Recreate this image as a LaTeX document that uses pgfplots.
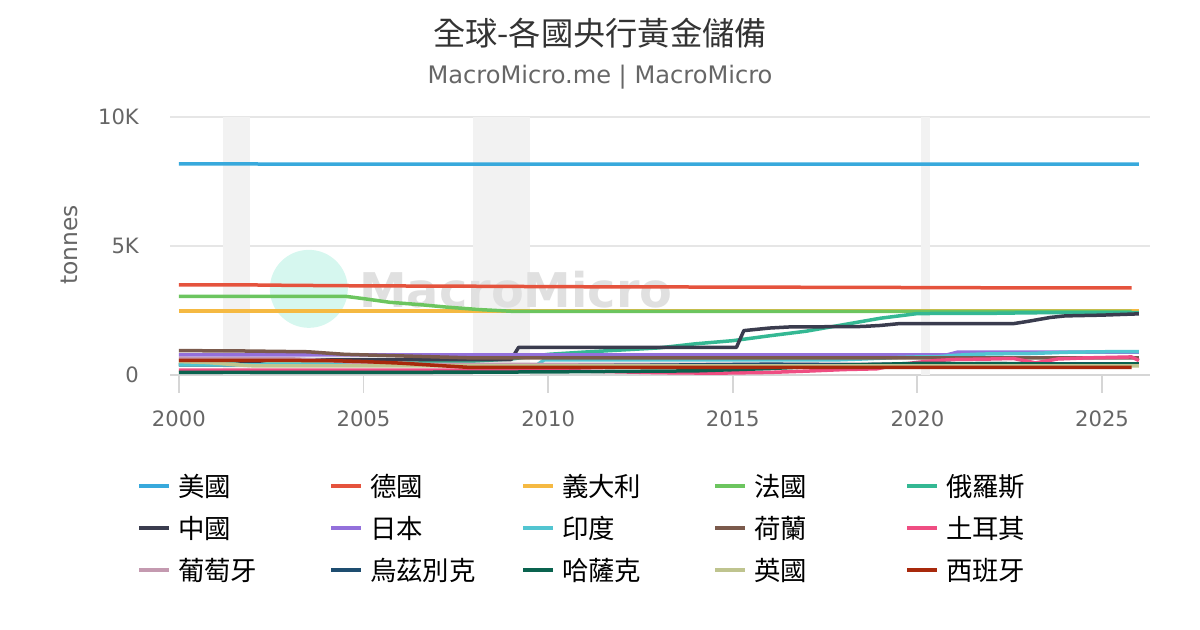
\documentclass[border=0pt]{standalone}
\usepackage{fontspec}
\setmainfont{DejaVu Sans}
\newfontfamily\cjk{Noto Sans CJK TC}
\usepackage{pgfplots}
\pgfplotsset{compat=1.18}
\definecolor{cUS}{HTML}{38A9DC}
\definecolor{cDE}{HTML}{E5533D}
\definecolor{cIT}{HTML}{F5B942}
\definecolor{cFR}{HTML}{6CC55F}
\definecolor{cRU}{HTML}{34B893}
\definecolor{cCN}{HTML}{3A3C4E}
\definecolor{cJP}{HTML}{9370DB}
\definecolor{cIN}{HTML}{52C5D1}
\definecolor{cNL}{HTML}{7B5A4C}
\definecolor{cTR}{HTML}{EF4D82}
\definecolor{cPT}{HTML}{C49AB0}
\definecolor{cUZ}{HTML}{1E4D70}
\definecolor{cKZ}{HTML}{0A634F}
\definecolor{cUK}{HTML}{BFC48F}
\definecolor{cES}{HTML}{A8290C}
\definecolor{cband}{HTML}{F2F2F2}
\definecolor{cgrid}{HTML}{E6E6E6}
\definecolor{caxis}{HTML}{D6D6D6}
\definecolor{ctitle}{HTML}{333333}
\definecolor{csub}{HTML}{666666}
\definecolor{cmint}{HTML}{D6F7EF}
\definecolor{cwm}{HTML}{E0E0E0}
\newcommand{\legtxt}[1]{\makebox[158bp][l]{\hspace{7bp}#1}}
\begin{document}
\begin{tikzpicture}[x=1bp,y=1bp]
\path[use as bounding box] (0,0) rectangle (1200,630);
\node[font=\cjk\fontsize{32.4}{38}\selectfont, text=ctitle] at (600,597) {全球-各國央行黃金儲備};
\node[font=\fontsize{24.2}{28}\selectfont, text=csub] at (600,553) {MacroMicro.me | MacroMicro};
\begin{axis}[
  at={(170bp,255bp)}, anchor=south west,
  scale only axis, width=980bp, height=258bp,
  xmin=1999.76, xmax=2026.3, ymin=0, ymax=10000,
  separate axis lines,
  axis x line*=bottom, axis y line*=left,
  y axis line style={draw=none},
  x axis line style={caxis, line width=2bp},
  xtick={2000,2005,2010,2015,2020,2025},
  xticklabels={2000,2005,2010,2015,2020,2025},
  ytick={0,5000,10000},
  yticklabels={0,5K,10K},
  scaled y ticks=false,
  ymajorgrids, grid style={cgrid, line width=1.3bp},
  xtick style={caxis, line width=1.8bp},
  ytick style={draw=none},
  major tick length=18bp, tick align=outside,
  /pgf/number format/assume math mode=true,
  tick label style={font=\fontsize{21.2}{24}\selectfont, text=csub},
  xticklabel style={anchor=north, inner sep=0pt, yshift=-18bp},
  yticklabel style={anchor=east, inner sep=0pt, xshift=-13bp},
  ylabel={tonnes},
  every axis y label/.style={at={(axis description cs:-0.1031,0.504)}, rotate=90, anchor=center, font=\fontsize{23.5}{28}\selectfont, text=csub},
  legend columns=5,
  legend cell align=left,
  legend image code/.code={\draw[#1, line width=4bp] (0bp,0bp) -- (30bp,0bp);},
  legend style={at={(axis description cs:-0.0337,-0.3488)}, anchor=north west, draw=none, fill=none, inner sep=0pt, column sep=0pt, row sep=0pt,
    nodes={inner sep=0pt, minimum height=42bp, anchor=west, font=\cjk\fontsize{26.5}{30}\selectfont, text=black}},
  every axis plot/.append style={line width=3.5bp, line join=round},
]
\addplot[fill=cband, draw=none, forget plot] coordinates {(2001.2,10000)(2001.92,10000)} \closedcycle;
\addplot[fill=cband, draw=none, forget plot] coordinates {(2007.96,10000)(2009.5,10000)} \closedcycle;
\addplot[fill=cband, draw=none, forget plot] coordinates {(2020.1,10000)(2020.35,10000)} \closedcycle;
\fill[cmint] (axis cs:2003.52,3339) circle[radius=39bp];
\node[font=\bfseries\fontsize{48}{50}\selectfont, text=cwm] at (axis cs:2009.13,3300) {MacroMicro};

\addplot[cUS] coordinates {(2000,8180)(2005,8175)(2026,8175)};
\addlegendentry{\legtxt{美國}}
\addplot[cDE] coordinates {(2000,3495)(2002,3490)(2003,3475)(2004,3465)(2005,3455)(2006,3450)(2008,3440)(2010,3425)(2012,3415)(2014,3410)(2016,3405)(2018,3395)(2020,3390)(2022,3380)(2024,3378)(2025.8,3376)};
\addlegendentry{\legtxt{德國}}
\addplot[cIT] coordinates {(2000,2484)(2026,2484)};
\addlegendentry{\legtxt{義大利}}
\addplot[cFR] coordinates {(2000,3051)(2004.5,3051)(2005,2960)(2005.7,2820)(2006.5,2730)(2007.3,2625)(2008.2,2530)(2009,2470)(2025.8,2470)};
\addlegendentry{\legtxt{法國}}
\addplot[cRU] coordinates {(2000,420)(2002,420)(2005,420)(2007,480)(2008,540)(2009,620)(2010,800)(2011,890)(2012,970)(2013,1050)(2014,1210)(2015,1330)(2016,1520)(2017,1700)(2018,1950)(2019,2200)(2020,2380)(2021,2390)(2022,2390)(2023,2410)(2024,2420)(2026,2420)};
\addlegendentry{\legtxt{俄羅斯}}
\addplot[cCN] coordinates {(2000,395)(2001.5,395)(2002.5,600)(2009.0,600)(2009.2,1070)(2015.1,1070)(2015.3,1720)(2016.0,1820)(2016.5,1860)(2018.5,1880)(2019.0,1920)(2019.5,1990)(2022.6,1990)(2023.0,2080)(2023.6,2230)(2024.0,2290)(2025.0,2320)(2026.0,2370)};
\addlegendentry{\legtxt{中國}}
\addplot[cJP] coordinates {(2000,780)(2020.8,780)(2021.1,890)(2026,890)};
\addlegendentry{\legtxt{日本}}
\addplot[cIN] coordinates {(2000,390)(2009.7,390)(2009.9,590)(2017.9,590)(2018.5,620)(2019,650)(2019.5,680)(2020,700)(2020.5,700)(2021,760)(2021.5,800)(2022,820)(2023,830)(2024,880)(2025,900)(2026,910)};
\addlegendentry{\legtxt{印度}}
\addplot[cNL] coordinates {(2000,943)(2001.5,935)(2003.5,900)(2004.5,800)(2005.5,760)(2007,700)(2008,660)(2026,660)};
\addlegendentry{\legtxt{荷蘭}}
\addplot[cTR] coordinates {(2000,190)(2010,190)(2011,150)(2013,90)(2014.5,70)(2016,100)(2017,150)(2018,210)(2018.9,240)(2019.5,400)(2020,490)(2020.5,560)(2021,600)(2022,620)(2022.6,640)(2023.2,470)(2023.8,620)(2024.5,660)(2025.5,690)(2025.8,700)(2026,560)};
\addlegendentry{\legtxt{土耳其}}
\addplot[cPT] coordinates {(2000,640)(2003,630)(2004,560)(2005,470)(2006,420)(2007,410)(2026,410)};
\addlegendentry{\legtxt{葡萄牙}}
\addplot[cUZ] coordinates {(2010,350)(2013,380)(2016,420)(2018,400)(2020,420)(2022,440)(2024,430)(2026,430)};
\addlegendentry{\legtxt{烏茲別克}}
\addplot[cKZ] coordinates {(2000,100)(2005,100)(2008,110)(2010,120)(2014,160)(2016,250)(2018,380)(2020,450)(2022,440)(2024,420)(2026,430)};
\addlegendentry{\legtxt{哈薩克}}
\addplot[cUK] coordinates {(2000,520)(2000.8,480)(2001.5,400)(2002,355)(2026,355)};
\addlegendentry{\legtxt{英國}}
\addplot[cES] coordinates {(2000,570)(2004,560)(2005,520)(2006,460)(2007,370)(2007.8,300)(2025.8,300)};
\addlegendentry{\legtxt{西班牙}}
\end{axis}
\end{tikzpicture}
\end{document}
